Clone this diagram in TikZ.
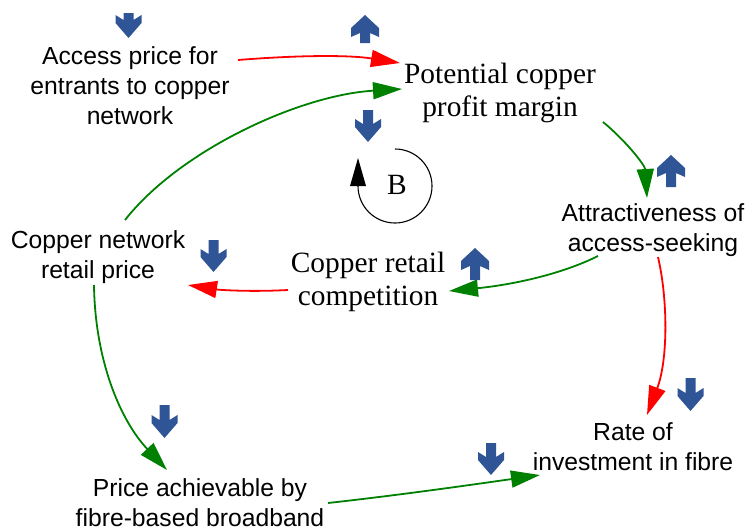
\documentclass[tikz,border=0pt]{standalone}
\usepackage{fontspec}
\setmainfont{Liberation Serif}
\setsansfont{Liberation Sans}
\usetikzlibrary{arrows.meta}
\definecolor{posgreen}{RGB}{0,128,0}
\definecolor{negred}{RGB}{255,0,0}
\definecolor{trendblue}{RGB}{47,85,151}

% blue trend markers: tip at (#1,#2) in pixel units, shaft length #3
\newcommand\trenddown[3]{\fill[trend,shift={(#1,-#2)}] (0,0) -- (13,15) -- (13,23) -- (5,18) -- (5,#3) -- (-5,#3) -- (-5,18) -- (-13,23) -- (-13,15) -- cycle;}
\newcommand\trendup[3]{\fill[trend,shift={(#1,-#2)}] (0,0) -- (14,-13) -- (14,-22) -- (5,-18) -- (5,-#3) -- (-5,-#3) -- (-5,-18) -- (-14,-22) -- (-14,-13) -- cycle;}

\begin{document}
\begin{tikzpicture}[x=1pt,y=1pt,
  sanslbl/.style={font=\sffamily\fontsize{24.7}{30}\selectfont, align=center, inner sep=0pt},
  seriflbl/.style={font=\fontsize{29.4}{33.5}\selectfont, align=center, inner sep=0pt},
  link/.style={line width=1.8pt, -{Triangle[length=29pt,width=17pt]}},
  poslink/.style={link, draw=posgreen},
  neglink/.style={link, draw=negred},
  loopline/.style={line width=1.1pt, draw=black},
  trend/.style={fill=trendblue}]
\useasboundingbox (0,0) rectangle (748,-528);

% variables
\node[sanslbl] (access) at (130,-86) {Access price for\\entrants to copper\\network};
\node[seriflbl] (potential) at (500,-93) {Potential copper\\profit margin};
\node[sanslbl] (attract) at (653,-230) {Attractiveness of\\access-seeking};
\node[seriflbl] (compet) at (368,-282) {Copper retail\\competition};
\node[sanslbl] (copnet) at (98,-257) {Copper network\\retail price};
\node[sanslbl] (rate) at (633,-447) {Rate of\\investment in fibre};
\node[sanslbl] (price) at (200,-503) {Price achievable by\\fibre-based broadband};
\node[seriflbl] (bal) at (397,-185) {B};

% causal links
\draw[neglink] ([shift={(108,26)}]access.center) .. controls +(62,5) and +(-50,8) .. ([shift={(-100,30)}]potential.center);
\draw[poslink] ([shift={(27,37)}]copnet.center) .. controls +(55,70) and +(-102,-6) .. ([shift={(-98,4)}]potential.center);
\draw[poslink] ([shift={(103,-29)}]potential.center) .. controls +(22,-18) and +(-2,33) .. ([shift={(-6,32)}]attract.center);
\draw[poslink] ([shift={(-55,-26)}]attract.center) .. controls +(-38,-19) and +(61,6) .. ([shift={(81,-9)}]compet.center);
\draw[neglink] ([shift={(-80,-8)}]compet.center) .. controls +(-38,-2) and +(32,-5) .. ([shift={(90,-28)}]copnet.center);
\draw[neglink] ([shift={(5,-27)}]attract.center) .. controls +(10,-43) and +(21,55) .. ([shift={(14,32)}]rate.center);
\draw[poslink] ([shift={(-4,-28)}]copnet.center) .. controls +(1,-75) and +(-47,50) .. ([shift={(-33,33)}]price.center);
\draw[poslink] ([shift={(128,0)}]price.center) .. controls +(72,8) and +(-70,-10) .. ([shift={(-93,-28)}]rate.center);

% balancing loop marker
\draw[loopline] ([shift={(-2,36)}]bal.center) arc[start angle=90, end angle=-180, radius=37];
\fill[black] ([shift={(-39,27)}]bal.center) -- ++(-8,-28) -- ++(16,0) -- cycle;

% trend markers
\trenddown{128.5}{38}{25}
\trendup{365}{15}{28}
\trenddown{368}{142}{32}
\trendup{671}{155}{32}
\trenddown{213.5}{272}{32}
\trendup{475}{248}{32}
\trenddown{690.5}{411}{33}
\trenddown{164.5}{438}{33}
\trenddown{491}{475}{32}
\end{tikzpicture}
\end{document}
